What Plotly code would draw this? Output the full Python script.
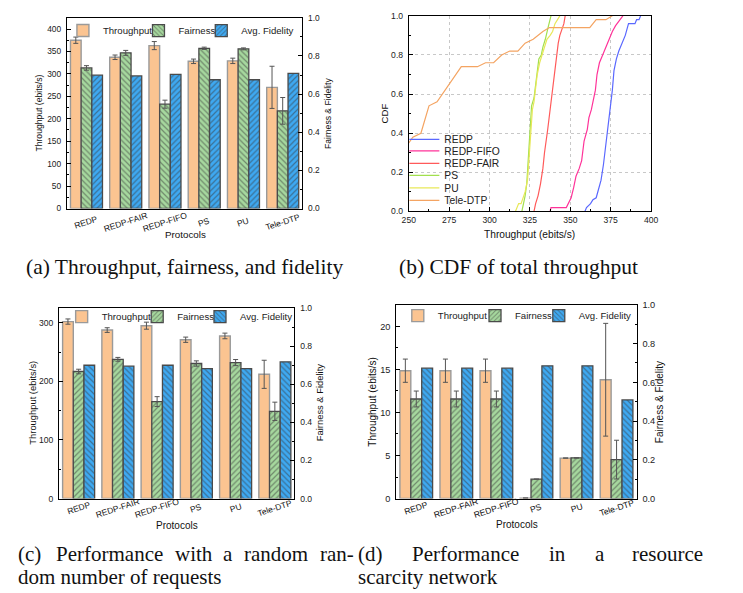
import plotly.graph_objects as go

W, H = 743, 593

protocols = ["REDP", "REDP-FAIR", "REDP-FIFO", "PS", "PU", "Tele-DTP"]

# (a) Throughput, fairness, fidelity
a_thr = [375, 337, 363, 328, 329, 270]
a_thr_err = [7, 5, 9, 5, 6, 47]
a_fair = [0.737, 0.816, 0.547, 0.840, 0.837, 0.512]
a_fair_err = [0.012, 0.013, 0.021, 0.006, 0.005, 0.070]
a_fid = [0.699, 0.695, 0.703, 0.675, 0.675, 0.709]

# (c) random number of requests
c_thr = [302, 287.5, 295, 271, 277.5, 212]
c_thr_err = [4.5, 4, 6, 4.5, 4.8, 24]
c_fair = [0.667, 0.731, 0.509, 0.709, 0.714, 0.458]
c_fair_err = [0.012, 0.010, 0.026, 0.014, 0.016, 0.048]
c_fid = [0.700, 0.695, 0.700, 0.682, 0.682, 0.718]

# (d) resource scarcity network
d_thr = [14.85, 14.85, 14.85, 0.05, 4.7, 13.8]
d_thr_err = [1.35, 1.35, 1.35, 0, 0, 6.55]
d_fair = [0.514, 0.514, 0.514, 0.100, 0.210, 0.201]
d_fair_err = [0.041, 0.041, 0.041, 0, 0, 0.100]
d_fid = [0.673, 0.673, 0.673, 0.685, 0.685, 0.509]

# (b) CDF of total throughput
redp_x = [359, 360, 362.5, 364, 366, 367, 369, 370.5, 372, 373.5, 375, 376, 377, 378.5, 380, 382, 384, 386, 390, 391, 392.5, 393.5]
redp_y = [0, 0.02, 0.04, 0.06, 0.07, 0.10, 0.16, 0.24, 0.34, 0.46, 0.54, 0.62, 0.72, 0.78, 0.82, 0.86, 0.90, 0.96, 0.96, 0.98, 0.98, 1.0]
fifo_x = [337.5, 338, 347.5, 348.5, 350.5, 352, 353.5, 355.5, 357, 358.5, 360.5, 361.5, 363, 364.5, 365.5, 366.5, 368, 370, 372, 374, 376, 378, 380.5, 382.5]
fifo_y = [0, 0.02, 0.02, 0.04, 0.07, 0.12, 0.18, 0.22, 0.26, 0.36, 0.42, 0.48, 0.52, 0.58, 0.62, 0.70, 0.76, 0.80, 0.84, 0.88, 0.92, 0.95, 0.98, 1.0]
fair_x = [327.5, 328.5, 330, 331.5, 333, 334, 336, 337.5, 338.5, 339.5, 340.5, 341.5, 342.5, 343.5, 345, 346, 346.8]
fair_y = [0, 0.04, 0.08, 0.14, 0.22, 0.30, 0.42, 0.52, 0.60, 0.66, 0.72, 0.80, 0.86, 0.90, 0.94, 0.96, 1.0]
ps_x = [320, 321, 322, 323, 324, 324.5, 325.5, 326, 327.5, 328.5, 329.5, 330.5, 332, 333, 334.5, 335.5, 336.5, 338]
ps_y = [0, 0.04, 0.08, 0.14, 0.28, 0.36, 0.44, 0.54, 0.58, 0.64, 0.70, 0.78, 0.80, 0.84, 0.88, 0.92, 0.95, 1.0]
pu_x = [316, 317, 318, 319.5, 320.5, 322, 323.5, 324.5, 325.5, 326.5, 327.5, 328.5, 329.5, 331, 332.5, 334, 335.5, 337.5, 339, 340.5, 342, 343.5]
pu_y = [0, 0.02, 0.04, 0.04, 0.06, 0.10, 0.16, 0.30, 0.40, 0.52, 0.56, 0.64, 0.70, 0.76, 0.80, 0.84, 0.88, 0.90, 0.92, 0.96, 0.98, 1.0]
tele_x = [250, 252.5, 257.5, 262.5, 267.5, 282.5, 292.5, 297.5, 302.5, 307.5, 312.5, 317.5, 322, 327, 333, 337, 342, 362, 366, 372, 376]
tele_y = [0.35, 0.38, 0.40, 0.54, 0.56, 0.74, 0.74, 0.76, 0.76, 0.80, 0.82, 0.82, 0.86, 0.88, 0.92, 0.94, 0.94, 0.94, 0.98, 0.98, 1.0]

cdf_names = ["REDP", "REDP-FIFO", "REDP-FAIR", "PS", "PU", "Tele-DTP"]
cdf_colors = ["#5a68ff", "#ff3399", "#ff5a5a", "#a2e04e", "#e8e858", "#f4a462"]
cdf_data = [(redp_x, redp_y), (fifo_x, fifo_y), (fair_x, fair_y), (ps_x, ps_y), (pu_x, pu_y), (tele_x, tele_y)]

SANS = "Liberation Sans, Arial, sans-serif"
SERIF = "Liberation Serif, Times New Roman, serif"
C_THR, C_FAIR, C_FID = "#fbc491", "#a6d89e", "#3ea9f2"
HATCH = "#3a3a3a"


def px(x):
    return x / W


def py(y):
    return 1 - y / H


fig = go.Figure()

# bar widths/offsets in category units
BW = 0.272
OFFS = [-0.408, -0.136, 0.136]


def add_bar_panel(xa, yl, yr, thr, thr_err, fair, fair_err, fid, legs, hatch_fair, hatch_fid):
    fig.add_trace(go.Bar(
        x=protocols, y=thr, name="Throughput", xaxis=xa, yaxis=yl,
        width=BW, offset=OFFS[0],
        marker=dict(color=C_THR, line=dict(color="#9a9a9a", width=1.4)),
        error_y=dict(type="data", array=thr_err, color="#555555", thickness=1, width=2.5),
        legend=legs[0], showlegend=True))
    fig.add_trace(go.Bar(
        x=protocols, y=fair, name="Fairness", xaxis=xa, yaxis=yr,
        width=BW, offset=OFFS[1],
        marker=dict(color=C_FAIR, line=dict(color="#4a4a4a", width=1.3),
                    pattern=dict(shape=hatch_fair, fgcolor=HATCH, bgcolor=C_FAIR, size=4, solidity=0.3)),
        error_y=dict(type="data", array=fair_err, color="#555555", thickness=1, width=2.5),
        legend=legs[1], showlegend=True))
    fig.add_trace(go.Bar(
        x=protocols, y=fid, name="Avg. Fidelity", xaxis=xa, yaxis=yr,
        width=BW, offset=OFFS[2],
        marker=dict(color=C_FID, line=dict(color="#4a4a4a", width=1.3),
                    pattern=dict(shape=hatch_fid, fgcolor=HATCH, bgcolor=C_FID, size=4, solidity=0.3)),
        legend=legs[2], showlegend=True))


add_bar_panel("x", "y", "y2", a_thr, a_thr_err, a_fair, a_fair_err, a_fid,
              ["legend", "legend2", "legend3"], "\\", "/")
add_bar_panel("x3", "y4", "y5", c_thr, c_thr_err, c_fair, c_fair_err, c_fid,
              ["legend10", "legend11", "legend12"], "/", "\\")
add_bar_panel("x4", "y6", "y7", d_thr, d_thr_err, d_fair, d_fair_err, d_fid,
              ["legend13", "legend14", "legend15"], "/", "\\")

for i, (name, col, (xs, ys)) in enumerate(zip(cdf_names, cdf_colors, cdf_data)):
    fig.add_trace(go.Scatter(x=xs, y=ys, mode="lines", name=name, xaxis="x2", yaxis="y3",
                             line=dict(color=col, width=1.2), legend="legend%d" % (4 + i),
                             showlegend=True))


def yax(domain, rng, dtick, minor, fs, side="left", overlay=None, anchor=None, fmt=None, grid=False):
    d = dict(range=rng, dtick=dtick, tick0=0, ticks="inside", ticklen=4, tickwidth=1, tickcolor="#000",
             minor=dict(dtick=minor, ticks="inside", ticklen=2, tickcolor="#000", showgrid=False),
             showline=True, linecolor="#000", linewidth=1, zeroline=False, showgrid=grid,
             tickfont=dict(size=fs, family=SANS, color="#222"), side=side, anchor=anchor,
             ticklabelstandoff=3, fixedrange=True)
    if grid:
        d.update(gridcolor="#c8c8c8", griddash="dot", gridwidth=1)
    if overlay:
        d["overlaying"] = overlay
    else:
        d["domain"] = domain
    if fmt:
        d["tickformat"] = fmt
    return d


def xcat(domain, anchor):
    return dict(domain=domain, anchor=anchor, type="category", range=[-0.5, 5.5],
                showticklabels=False, ticks="", showline=True, mirror=True,
                linecolor="#000", linewidth=1, showgrid=False, zeroline=False, fixedrange=True)


layout = dict(
    width=W, height=H, margin=dict(l=0, r=0, t=0, b=0),
    paper_bgcolor="white", plot_bgcolor="rgba(0,0,0,0)", showlegend=True,
    barmode="overlay", font=dict(family=SANS, color="#222"),
    xaxis=xcat([px(61), px(301)], "y"),
    yaxis=yax([py(207), py(13)], [0, 425], 50, 25, 8.4, anchor="x"),
    yaxis2=yax(None, [0, 1], 0.2, 0.1, 8.4, side="right", overlay="y", anchor="x", fmt=".1f"),
    xaxis2=dict(domain=[px(409.5), px(656.5)], anchor="y3", range=[250, 400], dtick=25, tick0=250,
                ticks="inside", ticklen=4, tickcolor="#000",
                minor=dict(dtick=12.5, ticks="inside", ticklen=2, tickcolor="#000", showgrid=False),
                showline=True, mirror=True, linecolor="#000", linewidth=1, zeroline=False,
                showgrid=True, gridcolor="#c8c8c8", griddash="dot",
                tickfont=dict(size=8.6, family=SANS, color="#222"), fixedrange=True),
    yaxis3=yax([py(210), py(11)], [0, 1], 0.2, 0.1, 8.6, anchor="x2", fmt=".1f", grid=True),
    xaxis3=xcat([px(53), px(293)], "y4"),
    yaxis4=yax([py(502), py(308.3)], [0, 325], 100, 50, 8.6, anchor="x3"),
    yaxis5=yax(None, [0, 1], 0.2, 0.1, 8.6, side="right", overlay="y4", anchor="x3", fmt=".1f"),
    xaxis4=xcat([px(396.7), px(641.7)], "y6"),
    yaxis6=yax([py(502), py(305)], [0, 22.5], 5, 2.5, 9.2, anchor="x4"),
    yaxis7=yax(None, [0, 1], 0.2, 0.1, 9.2, side="right", overlay="y6", anchor="x4", fmt=".1f"),
)
layout["yaxis3"]["mirror"] = True


def leg(text_x, yc, fs=9.6):
    return dict(x=px(text_x - 45), y=py(yc), xanchor="left", yanchor="middle",
                bgcolor="rgba(0,0,0,0)", borderwidth=0, itemwidth=30,
                font=dict(size=fs, family=SANS, color="#222"))


# bar legends (one item each)
for name, tx in zip(["legend", "legend2", "legend3"], [102, 179, 243]):
    layout[name] = leg(tx, 26)
for name, tx in zip(["legend10", "legend11", "legend12"], [100.7, 177.7, 241.7]):
    layout[name] = leg(tx, 317)
for name, tx in zip(["legend13", "legend14", "legend15"], [443.3, 522, 587]):
    layout[name] = leg(tx, 316)
# CDF legends
for i, yc in enumerate([136.7, 148.3, 161, 173.3, 186, 198.7]):
    layout["legend%d" % (4 + i)] = leg(450, yc, 10.3)

fig.update_layout(**layout)

ann = []


def text(t, x, y, size, angle=0, family=SANS, xanchor="center", xref="paper"):
    ann.append(dict(text=t, x=x if xref != "paper" else px(x), y=py(y), xref=xref, yref="paper",
                    showarrow=False, textangle=angle, xanchor=xanchor, yanchor="middle",
                    align=xanchor, borderpad=0,
                    font=dict(size=size, family=family, color="#111")))


# category tick labels
for xa, yc, fs in [("x", 221, 8.5), ("x3", 512, 8.5), ("x4", 512, 8.6)]:
    for p in protocols:
        text(p, p, yc, fs, angle=-18, xref=xa)

# axis titles
text("Throughput (ebits/s)", 33, 110, 8.6, angle=-90)
text("Fairness &amp; Fidelity", 327, 110, 8.6, angle=-90)
text("Protocols", 182, 233, 9.8)
text("CDF", 385, 110.5, 9.6, angle=-90)
text("Throughput (ebits/s)", 532.7, 233, 10.2)
text("Throughput (ebits/s)", 26, 405, 9.4, angle=-90)
text("Fairness &amp; Fidelity", 318, 405, 9.4, angle=-90)
text("Protocols", 173.5, 529, 10)
text("Throughput (ebits/s)", 373, 403.5, 10, angle=-90)
text("Fairness &amp; Fidelity", 665, 403.5, 10, angle=-90)
text("Protocols", 519.5, 528, 10)

# captions
CAP = 21
text("(a) Throughput, fairness, and fidelity", 18, 266, 21.5, family=SERIF, xanchor="left")
text("(b) CDF of total throughput", 398, 266, 21.5, family=SERIF, xanchor="left")
L1, L2 = 558, 581.5
for w, x in [("(c)", 10), ("Performance", 48.8), ("with", 169.9), ("a", 219.4), ("random", 240.2), ("ran-", 318)]:
    text(w, x, L1, CAP, family=SERIF, xanchor="left")
text("dom number of requests", 10, L2, CAP, family=SERIF, xanchor="left")
for w, x in [("(d)", 357), ("Performance", 411.8), ("in", 551.4), ("a", 597.9)]:
    text(w, x, L1, CAP, family=SERIF, xanchor="left")
text("resource", 710, L1, CAP, family=SERIF, xanchor="right")
text("scarcity network", 357, L2, CAP, family=SERIF, xanchor="left")

fig.update_layout(annotations=ann)
fig.write_html("out.html", config={"displayModeBar": False},
               post_script="document.body.style.margin='0px';")
